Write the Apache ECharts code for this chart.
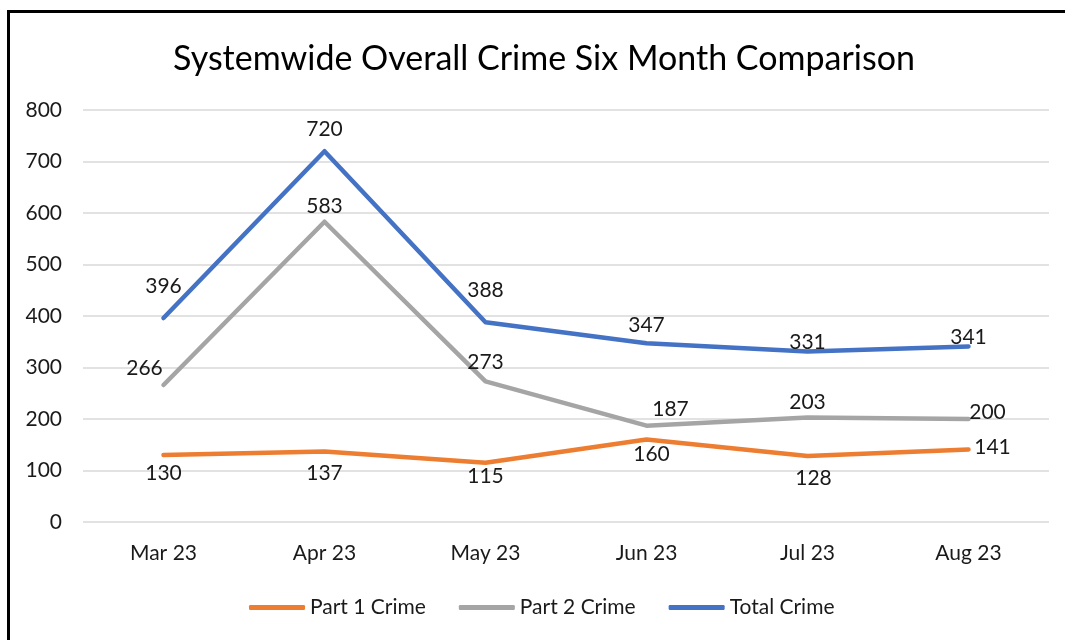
<!DOCTYPE html>
<html><head><meta charset="utf-8">
<script src="https://cdn.jsdelivr.net/npm/echarts@6/dist/echarts.min.js"></script>
<style>
html,body{margin:0;padding:0;background:#fff;}
#frame{position:absolute;left:7px;top:10px;width:1100px;height:700px;border-left:3px solid #000;border-top:3px solid #000;}
#c{position:absolute;left:0;top:0;width:1065px;height:640px;}
</style></head>
<body>
<div id="frame"></div>
<div id="c"></div>
<script>
const titleText = 'Systemwide Overall Crime Six Month Comparison';
const categories = ['Mar 23','Apr 23','May 23','Jun 23','Jul 23','Aug 23'];
const part1 = [130,137,115,160,128,141];
const part2 = [266,583,273,187,203,200];
const total = [396,720,388,347,331,341];
const yTicks = [0,100,200,300,400,500,600,700,800];

// label offsets (style only): [dx, dy] from the point
const part1LabelOffsets = [[0,18],[0,22],[0,13],[5,15],[6,22],[24,-2]];
const part2LabelOffsets = [[-19,-17],[0,-16],[0,-19],[24,-16],[0,-15],[19,-7]];
const totalLabelOffsets = [[0,-32],[0,-22],[0,-32],[0,-18],[0,-9],[0,-9]];

const FONT = 'Lato';
const TXT = '#1a1a1a';

function mk(name, values, offsets, color) {
  return {
    name: name,
    type: 'line',
    data: values.map((v, i) => ({
      value: v,
      label: { offset: offsets[i] }
    })),
    symbol: 'circle',
    symbolSize: 0,
    itemStyle: { color: color },
    lineStyle: { color: color, width: 4.5, cap: 'round', join: 'round' },
    label: {
      show: true, position: 'inside', color: TXT,
      fontFamily: FONT, fontSize: 21
    },
    emphasis: { disabled: true },
    animation: false
  };
}

const chart = echarts.init(document.getElementById('c'), null, { renderer: 'canvas' });
chart.setOption({
  backgroundColor: 'transparent',
  animation: false,
  title: {
    text: titleText, left: 539, top: 37, textAlign: 'center',
    textStyle: { fontFamily: FONT, fontSize: 34, fontWeight: 'normal', color: '#000' }
  },
  legend: {
    bottom: 17, left: 244,
    icon: 'roundRect', itemWidth: 56, itemHeight: 5, itemGap: 33,
    textStyle: { fontFamily: FONT, fontSize: 21, color: TXT },
    data: ['Part 1 Crime', 'Part 2 Crime', 'Total Crime']
  },
  grid: { left: 83, right: 16, top: 110, bottom: 118, containLabel: false },
  xAxis: {
    type: 'category', data: categories, boundaryGap: true,
    axisLine: { show: false }, axisTick: { show: false },
    axisLabel: { fontFamily: FONT, fontSize: 21, color: TXT, margin: 21 }
  },
  yAxis: {
    type: 'value', min: yTicks[0], max: yTicks[yTicks.length - 1], interval: 100,
    axisLine: { show: false }, axisTick: { show: false },
    axisLabel: { fontFamily: FONT, fontSize: 21, color: TXT, margin: 21 },
    splitLine: { lineStyle: { color: '#d9d9d9', width: 1.5 } }
  },
  series: [
    mk('Part 1 Crime', part1, part1LabelOffsets, '#ED7D31'),
    mk('Part 2 Crime', part2, part2LabelOffsets, '#A5A5A5'),
    mk('Total Crime', total, totalLabelOffsets, '#4472C4')
  ]
});
</script>
</body></html>
